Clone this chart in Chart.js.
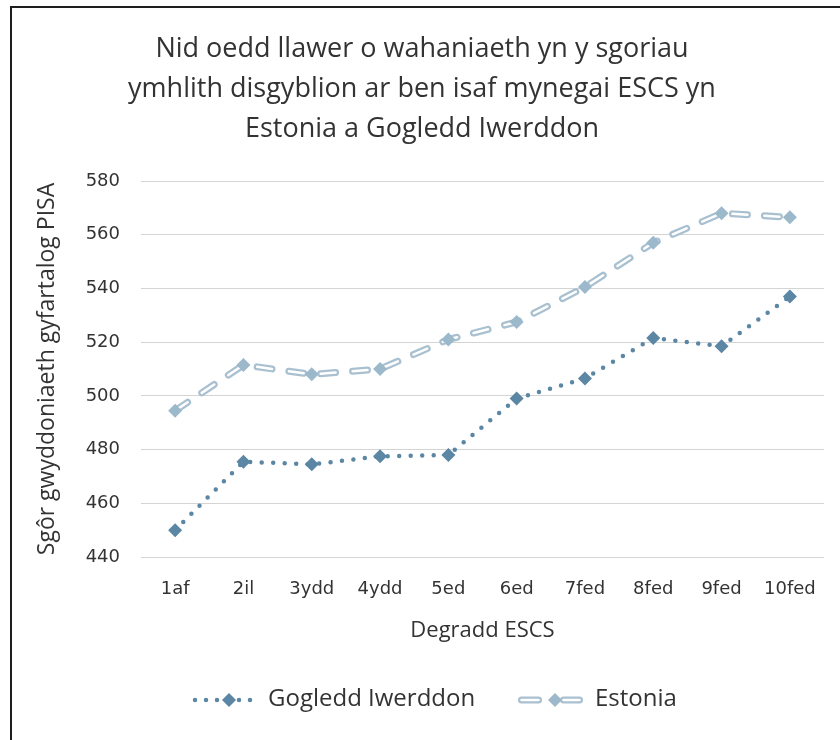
<!DOCTYPE html>
<html>
<head>
<meta charset="utf-8">
<script src="https://cdn.jsdelivr.net/npm/chart.js@4"></script>
<style>
    body { margin: 0; background: #fff; }
    #wrap { position: relative; width: 840px; height: 740px; overflow: hidden; }
    #frame { position: absolute; left: 10px; top: 6px; width: 850px; height: 760px; border: 2px solid #1e1e1e; box-sizing: border-box; }
    canvas { position: absolute; left: 0; top: 0; }
</style>
</head>
<body>
<div id="wrap">
    <div id="frame"></div>
    <canvas id="chart" width="840" height="740"></canvas>
</div>
<script>
// Decile labels (x axis)
const deciles = ['1af', '2il', '3ydd', '4ydd', '5ed', '6ed', '7fed', '8fed', '9fed', '10fed'];
// Average PISA science score per decile
const gogleddIwerddon = [450, 475.5, 474.5, 477.5, 478, 499, 506.5, 521.5, 518.5, 537];
const estonia = [494.5, 511.5, 508, 510, 521, 527.5, 540.5, 557, 568, 566.5];
// Series names
const seriesNames = ['Gogledd Iwerddon', 'Estonia'];
// Axis and title text
const titleLines = [
    'Nid oedd llawer o wahaniaeth yn y sgoriau',
    'ymhlith disgyblion ar ben isaf mynegai ESCS yn',
    'Estonia a Gogledd Iwerddon'
];
const xTitle = 'Degradd ESCS';
const yTitle = 'Sgôr gwyddoniaeth gyfartalog PISA';

const niColor = '#5b86a4';
const estColor = '#a9c0d1';
const estMarker = '#9cb8cb';
const textColor = '#333333';
const font = "'Open Sans', sans-serif";

// Draws the legend in the strip under the x axis title
const legendPlugin = {
    id: 'customLegend',
    afterDraw(chart) {
        const ctx = chart.ctx;
        const y = 700;
        ctx.save();
        // Gogledd Iwerddon sample: dotted line + diamond
        ctx.strokeStyle = niColor;
        ctx.lineWidth = 4.5;
        ctx.lineCap = 'round';
        ctx.setLineDash([0, 11]);
        ctx.beginPath();
        ctx.moveTo(195, y);
        ctx.lineTo(258, y);
        ctx.stroke();
        ctx.setLineDash([]);
        diamond(ctx, 229, y, 7, niColor);

        // Estonia sample: two short double-stroke pieces + diamond
        [[521.5, 538.5], [563.5, 579.5]].forEach(([a, b]) => {
            ctx.beginPath();
            ctx.moveTo(a, y);
            ctx.lineTo(b, y);
            ctx.lineWidth = 7;
            ctx.strokeStyle = estColor;
            ctx.stroke();
            ctx.lineWidth = 2.5;
            ctx.strokeStyle = '#ffffff';
            ctx.stroke();
        });
        diamond(ctx, 555, y, 7, estMarker);

        ctx.fillStyle = textColor;
        ctx.font = "24px " + font;
        ctx.textBaseline = 'middle';
        ctx.fillText(seriesNames[0], 268, y - 1);
        ctx.fillText(seriesNames[1], 595, y - 1);
        ctx.restore();
    }
};

function diamond(ctx, x, y, r, color) {
    ctx.fillStyle = color;
    ctx.beginPath();
    ctx.moveTo(x, y - r);
    ctx.lineTo(x + r, y);
    ctx.lineTo(x, y + r);
    ctx.lineTo(x - r, y);
    ctx.closePath();
    ctx.fill();
}

const chartCanvas = document.querySelector('#chart');
new Chart(chartCanvas, {
    type: 'line',
    data: {
        labels: deciles,
        datasets: [
            {
                label: seriesNames[0],
                data: gogleddIwerddon,
                borderColor: niColor,
                backgroundColor: niColor,
                borderWidth: 4.5,
                borderDash: [0, 11.5],
                borderCapStyle: 'round',
                pointStyle: 'rectRot',
                pointRadius: 7,
                pointBorderWidth: 0,
                tension: 0
            },
            {
                // Estonia markers, drawn on top of both line passes
                label: seriesNames[1],
                data: estonia,
                showLine: false,
                backgroundColor: estMarker,
                borderColor: estMarker,
                pointStyle: 'rectRot',
                pointRadius: 7,
                pointBorderWidth: 0
            },
            {
                // inner white stroke of the double line
                label: 'inner',
                data: estonia,
                borderColor: '#ffffff',
                borderWidth: 2.5,
                borderDash: [15, 17],
                borderCapStyle: 'round',
                pointRadius: 0,
                tension: 0
            },
            {
                // outer stroke of the double line
                label: 'outer',
                data: estonia,
                borderColor: estColor,
                borderWidth: 7,
                borderDash: [15, 17],
                borderCapStyle: 'round',
                pointRadius: 0,
                tension: 0
            }
        ]
    },
    options: {
        responsive: false,
        animation: false,
        layout: { padding: { top: 19, left: 20, right: 16, bottom: 83 } },
        plugins: {
            legend: { display: false },
            tooltip: { enabled: false },
            title: {
                display: true,
                text: titleLines,
                color: textColor,
                font: { family: font, size: 27, weight: 'normal', lineHeight: '40px' },
                padding: { top: 10, bottom: 32 }
            }
        },
        scales: {
            x: {
                offset: true,
                grid: { display: false },
                border: { display: false },
                ticks: { color: textColor, font: { family: 'DejaVu Sans', size: 18 }, padding: 14, maxRotation: 0 },
                title: {
                    display: true,
                    text: xTitle,
                    color: textColor,
                    font: { family: font, size: 22 },
                    padding: { top: 4, bottom: 13 }
                },
                afterFit: (scale) => { scale.height = 100; }
            },
            y: {
                min: 440,
                max: 580,
                grid: { color: '#d4d4d4', lineWidth: 1, drawTicks: false },
                border: { display: false },
                ticks: { stepSize: 20, color: textColor, font: { family: 'DejaVu Sans', size: 18 }, padding: 21 },
                title: {
                    display: true,
                    text: yTitle,
                    color: textColor,
                    font: { family: font, size: 23 },
                    padding: { top: 14, bottom: 0 }
                },
                afterFit: (scale) => { scale.width = 121; }
            }
        }
    },
    plugins: [legendPlugin]
});
</script>
</body>
</html>
